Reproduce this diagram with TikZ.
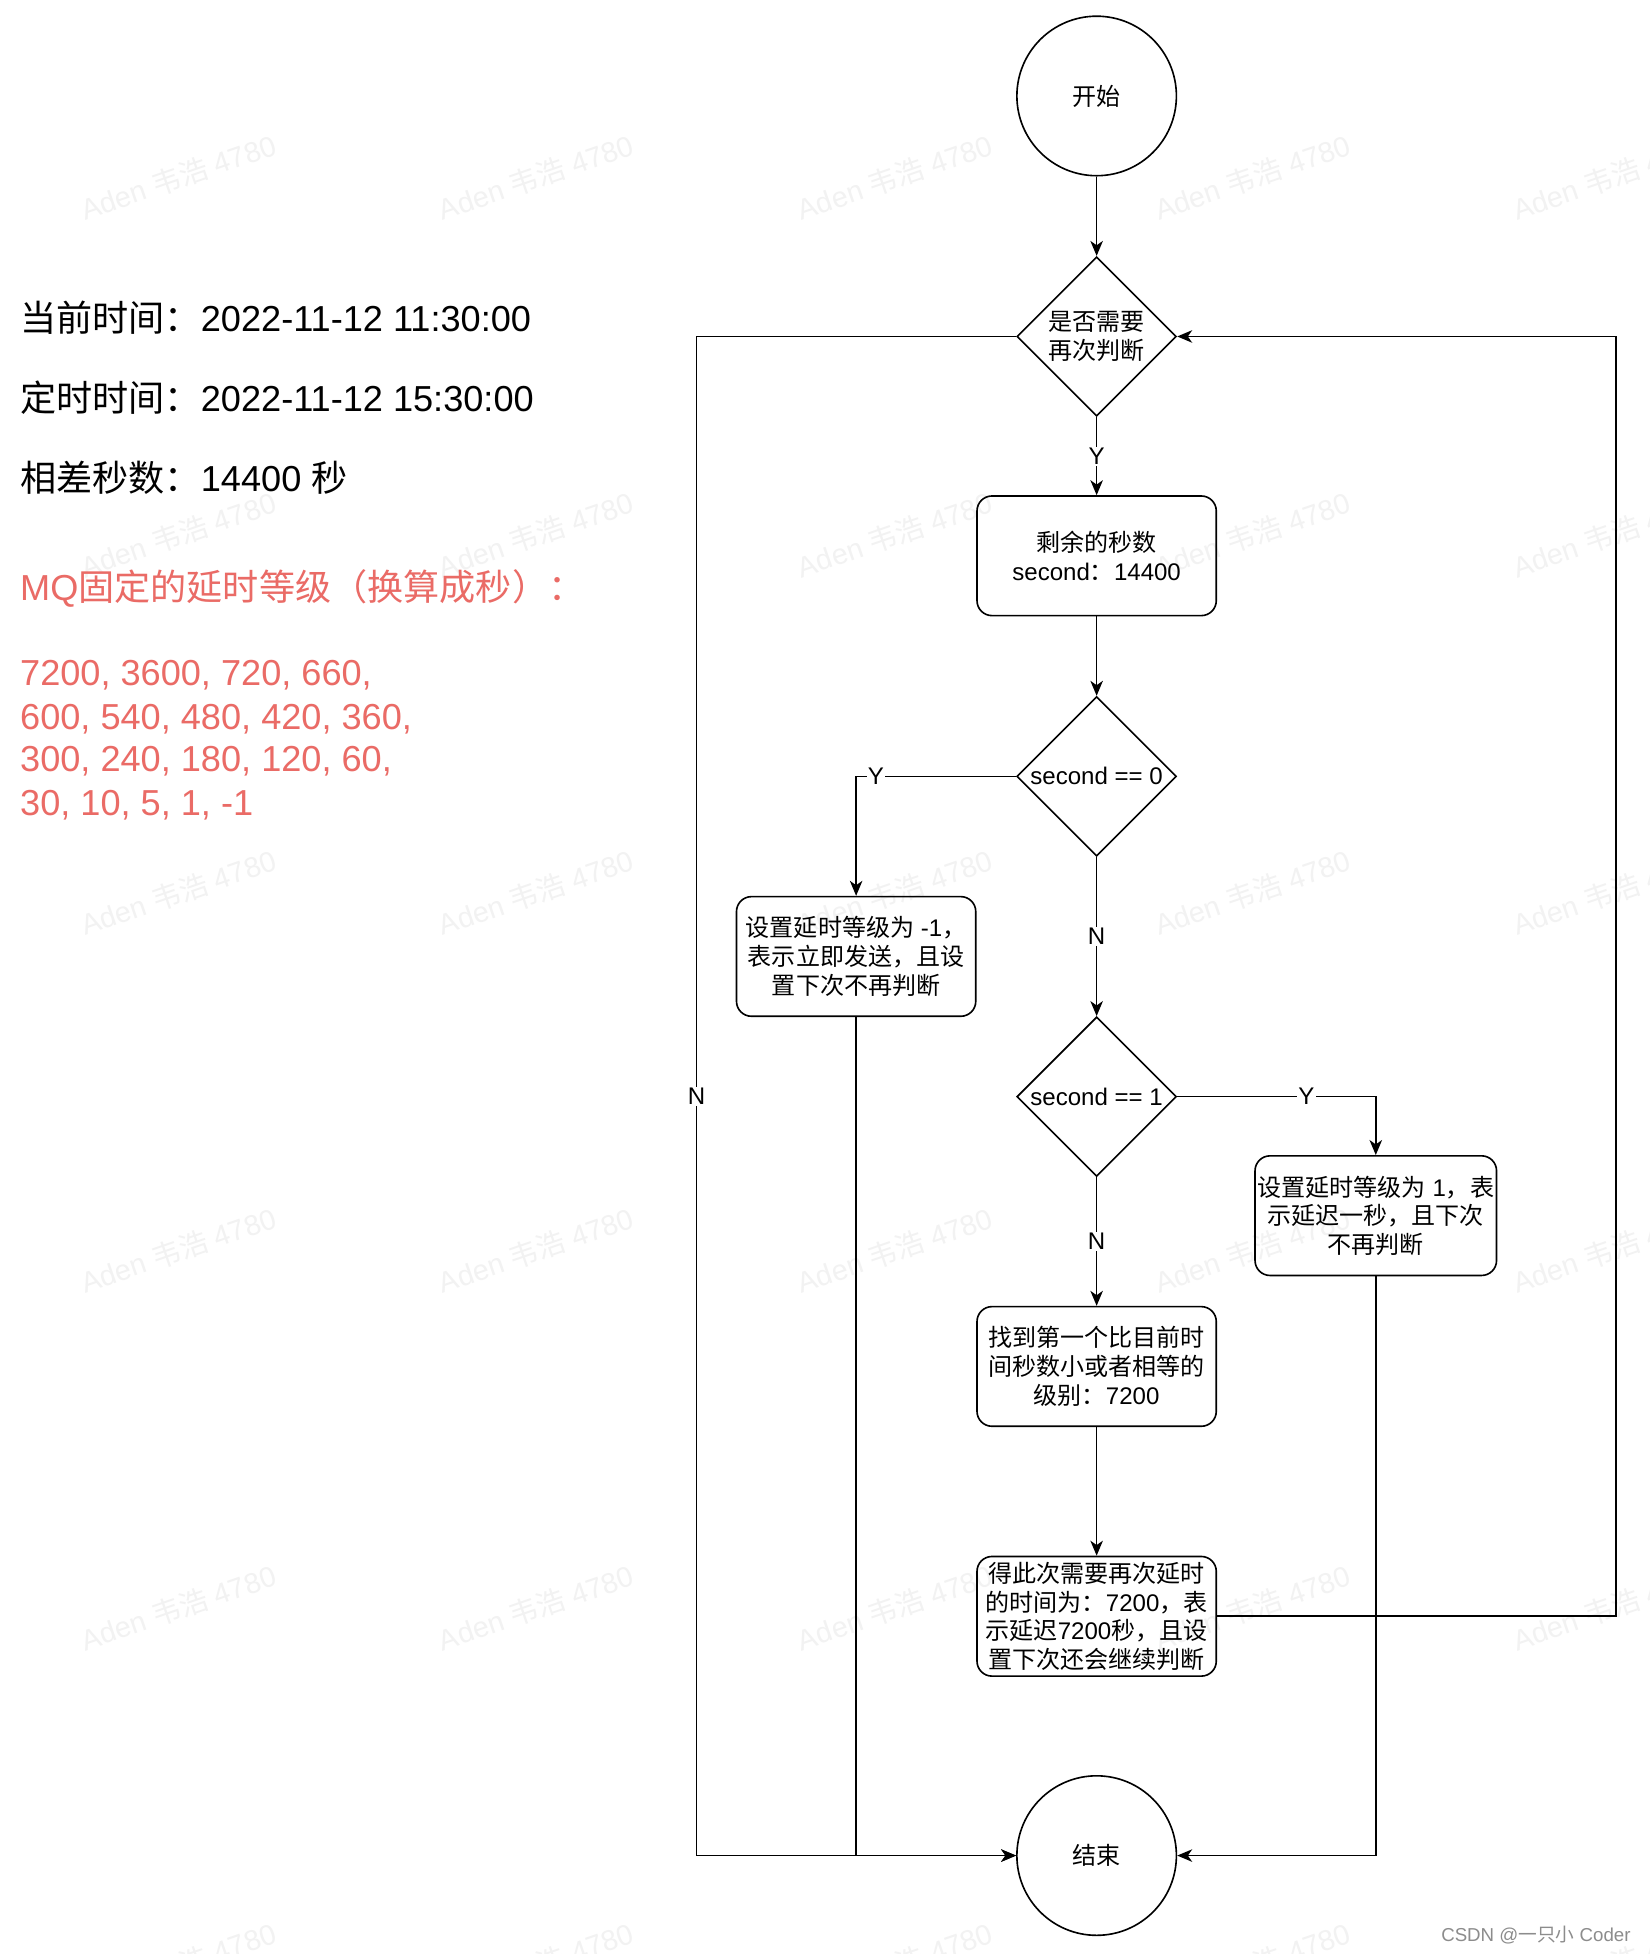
\documentclass[tikz,border=0pt]{standalone}
\usepackage{fontspec}
\setmainfont{Liberation Sans}
\newfontfamily\cjk{Noto Sans CJK SC}
\usetikzlibrary{shapes.geometric,arrows.meta}
\newcommand{\C}[1]{{\cjk #1}}
\definecolor{redtxt}{HTML}{EA6B66}
\tikzset{
  fc/.style={font=\fontsize{19.3}{23}\selectfont},
  box/.style={fc, draw, rectangle, rounded corners=12pt, line width=1.3pt,
    minimum width=192pt, minimum height=96pt, align=center, inner sep=2pt},
  dia/.style={draw, diamond, line width=1.3pt, minimum width=128pt,
    minimum height=128pt, inner sep=0pt},
  circ/.style={fc, draw, circle, line width=1.3pt, minimum size=128pt, inner sep=0pt},
  conn/.style={line width=1.3pt, -{Stealth[length=12pt,width=10pt,inset=3.5pt]}},
  lbl/.style={fc, fill=white, inner sep=1pt},
  lefttxt/.style={font=\fontsize{29}{34}\selectfont, anchor=west, inner sep=0pt},
  redline/.style={lefttxt, text=redtxt},
  wm/.style={font=\fontsize{23}{26}\selectfont, text=black!5, rotate=19},
}
\begin{document}
\begin{tikzpicture}[x=1pt,y=-1pt]
\useasboundingbox[fill=white] (0,0) rectangle (1324,1568);

% watermarks (faint, behind)
\foreach \wx in {143,430,718,1005,1292} {
  \foreach \wy in {142,429,716,1003,1290,1577} {
    \node[wm] at (\wx,\wy) {Aden \C{韦浩} 4780};
  }
}

% left texts
\node[lefttxt] (t1) at (16,255) {\C{当前时间：}2022-11-12 11:30:00};
\node[lefttxt] (t2) at (16,319) {\C{定时时间：}2022-11-12 15:30:00};
\node[lefttxt] (t3) at (16,383) {\C{相差秒数：}14400 \C{秒}};
\node[redline] (r0) at (16,472) {MQ\C{固定的延时等级（换算成秒）：}};
\node[redline] (r1) at (16,542) {7200, 3600, 720, 660,};
\node[redline] (r2) at (16,577) {600, 540, 480, 420, 360,};
\node[redline] (r3) at (16,611) {300, 240, 180, 120, 60,};
\node[redline] (r4) at (16,646) {30, 10, 5, 1, -1};

% flowchart nodes
\node[circ] (start) at (880,77) {\C{开始}};
\node[dia] (d1) at (880,270) {};
\node[fc, align=center] (d1t) at (d1) {\C{是否需要}\\\C{再次判断}};
\node[box] (b1) at (880,446) {\C{剩余的秒数}\\second\C{：}14400};
\node[dia] (d2) at (880,623) {};
\node[fc] (d2t) at (d2) {second == 0};
\node[box] (b2) at (687,767.5) {\C{设置延时等级为} -1\C{，}\\\C{表示立即发送，且设}\\\C{置下次不再判断}};
\node[dia] (d3) at (880,880) {};
\node[fc] (d3t) at (d3) {second == 1};
\node[box] (b3) at (1104,975.5) {\C{设置延时等级为} 1\C{，表}\\\C{示延迟一秒，且下次}\\\C{不再判断}};
\node[box] (b4) at (880,1096.5) {\C{找到第一个比目前时}\\\C{间秒数小或者相等的}\\\C{级别：}7200};
\node[box] (b5) at (880,1297) {\C{得此次需要再次延时}\\\C{的时间为：}7200\C{，表}\\\C{示延迟}7200\C{秒，且设}\\\C{置下次还会继续判断}};
\node[circ] (end) at (880,1489) {\C{结束}};

% helper coordinates
\coordinate (cl1) at (559,270);
\coordinate (cl2) at (559,1489);
\coordinate (cr1) at (1297,1297);
\coordinate (cr2) at (1297,270);
\coordinate (cb2) at (687,1489);
\coordinate (cb3) at (1104,1489);

% connectors
\draw[conn] (start) -- (d1);
\draw[conn] (d1) -- node[lbl] {Y} (b1);
\draw[conn] (b1) -- (d2);
\draw[conn] (d2.west) -| node[lbl, pos=0.438] {Y} (b2.north);
\draw[conn] (d2) -- node[lbl] {N} (d3);
\draw[conn] (d3.east) -| node[lbl, pos=0.325] {Y} (b3.north);
\draw[conn] (d3) -- node[lbl] {N} (b4);
\draw[conn] (b4) -- (b5);
\draw[conn] (b5.east) -- (cr1) -- (cr2) -- (d1.east);
\draw[conn] (d1.west) -- (cl1) -- node[lbl] {N} (cl2) -- (end.west);
\draw[conn] (b2.south) -- (cb2) -- (end.west);
\draw[conn] (b3.south) -- (cb3) -- (end.east);

\node[font=\fontsize{15}{18}\selectfont, text=black!45, anchor=east] (csdn) at (1312,1553) {CSDN @\C{一只小} Coder};
\end{tikzpicture}
\end{document}
